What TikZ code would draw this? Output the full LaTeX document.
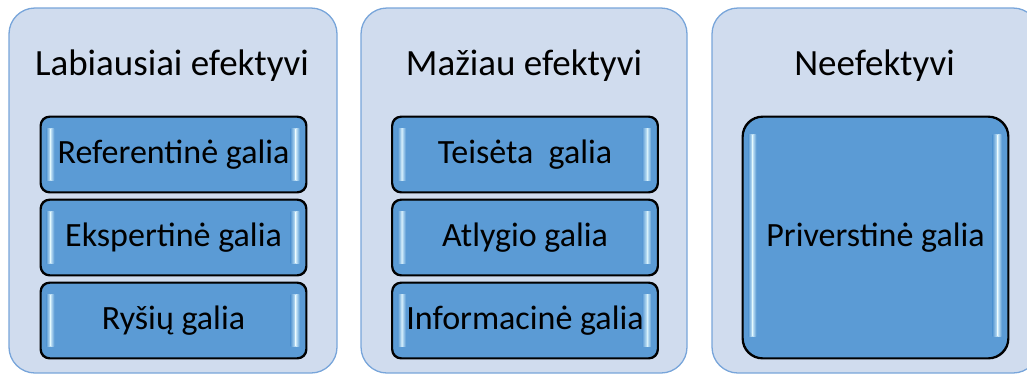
\documentclass[tikz,border=0pt]{standalone}
\usepackage{fontspec}
\setmainfont{Carlito}
\definecolor{panelfill}{RGB}{208,220,238}
\definecolor{panelline}{RGB}{120,165,218}
\definecolor{cardfill}{RGB}{91,155,213}
\definecolor{cardlight}{RGB}{222,246,255}
\tikzset{
  panel/.style={draw=panelline, line width=1.3pt, fill=panelfill, rounded corners=26pt},
  card/.style={draw=black, line width=1.4pt, fill=cardfill, rounded corners=9pt,
    inner sep=0pt, minimum width=265pt, minimum height=75pt,
    text height=17pt, text depth=0pt, text=black,
    font=\fontsize{34}{38}\selectfont},
  bigcard/.style={card, rounded corners=20pt, minimum height=241pt},
  heading/.style={anchor=base, text=black, inner sep=0pt, font=\fontsize{37}{42}\selectfont},
}
% light bevel strips along the left and right inner edges of a card
\newcommand\addbevel[3]{%
  \shade[left color=cardfill, right color=cardlight, opacity=0.9]
    ([xshift=6pt,yshift=-#2]#1.north west) rectangle ([xshift=10pt,yshift=#3]#1.south west);
  \shade[left color=cardlight, right color=cardfill, opacity=0.9]
    ([xshift=10pt,yshift=-#2]#1.north west) rectangle ([xshift=14pt,yshift=#3]#1.south west);
  \shade[left color=cardfill, right color=cardlight, opacity=0.9]
    ([xshift=-16pt,yshift=-#2]#1.north east) rectangle ([xshift=-11pt,yshift=#3]#1.south east);
  \shade[left color=cardlight, right color=cardfill, opacity=0.9]
    ([xshift=-11pt,yshift=-#2]#1.north east) rectangle ([xshift=-7pt,yshift=#3]#1.south east);
}
\begin{document}
\begin{tikzpicture}[x=1pt,y=-1pt]
  \useasboundingbox (0,0) rectangle (1027,376);
  \clip (0,0) rectangle (1027,376);

  % three columns
  \draw[panel] (9,8) rectangle (337,373);
  \draw[panel] (361,8) rectangle (687,373);
  \draw[panel] (712,8) rectangle (1039,373);

  \node[heading] (h1) at (172,75) {Labiausiai efektyvi};
  \node[heading] (h2) at (524,75) {Mažiau efektyvi};
  \node[heading] (h3) at (874.5,75) {Neefektyvi};

  % first column
  \node[card] (ref) at (173.5,154.5) {Referentinė galia};
  \node[card] (eks) at (173.5,237.5) {Ekspertinė galia};
  \node[card] (rys) at (173.5,320.5) {Ryšių galia};
  % second column
  \node[card] (tei) at (525,154.5) {Teisėta\ \ galia};
  \node[card] (atl) at (525,237.5) {Atlygio galia};
  \node[card] (inf) at (525,320.5) {Informacinė galia};
  % third column
  \node[bigcard] (pri) at (875.5,237.5) {Priverstinė galia};

  \foreach \n in {ref,eks,rys,tei,atl,inf}{\addbevel{\n}{12pt}{12pt}}
  \addbevel{pri}{18pt}{22pt}

  % redraw outlines over the bevel strips
  \foreach \n in {ref,eks,rys,tei,atl,inf}{
    \draw[black, line width=1.4pt, rounded corners=9pt] (\n.north west) rectangle (\n.south east);}
  \draw[black, line width=1.4pt, rounded corners=20pt] (pri.north west) rectangle (pri.south east);
\end{tikzpicture}
\end{document}
